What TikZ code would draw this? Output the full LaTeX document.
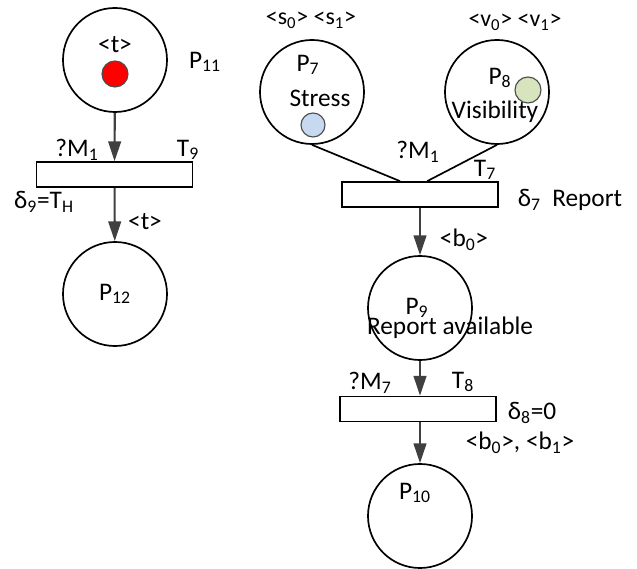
\documentclass[tikz,border=0pt]{standalone}
\usepackage{fontspec}
\setmainfont{Carlito}
\usetikzlibrary{arrows.meta}
\newcommand{\lo}[1]{\textsubscript{#1}}
\definecolor{stresstok}{HTML}{C6D9F1}
\definecolor{vistok}{HTML}{D7E4BD}

\begin{document}
\begin{tikzpicture}[x=0.025cm,y=-0.025cm,font=\fontsize{18}{21}\selectfont]
        \useasboundingbox (0,0) rectangle (637,569);

        % places
        \begin{scope}[every node/.style={circle,draw,line width=1.2pt,minimum size=2.6cm,inner sep=0pt}]
            \node (P11) at (115,60) {};
            \node (P12) at (115,294) {P\lo{12}};
            \node (P7) at (312,92) {};
            \node (P8) at (497,92) {};
            \node (P9) at (420,308) {};
            \node (P10) at (420,516) {};
        \end{scope}

        % transitions
        \begin{scope}[every node/.style={rectangle,draw,line width=1.2pt,minimum width=3.9cm,minimum height=0.625cm,inner sep=0pt}]
            \node (T9) at (114.5,174.5) {};
            \node (T7) at (420,194.5) {};
            \node (T8) at (418,409) {};
        \end{scope}

        % tokens
        \begin{scope}[every node/.style={circle,draw=black!70,thick,minimum size=0.65cm,inner sep=0pt}]
            \node [fill=red] (tokA) at (115,74) {};
            \node [fill=stresstok,minimum size=0.6cm] (tokS) at (313,125) {};
            \node [fill=vistok] (tokV) at (528,90) {};
        \end{scope}

        % arcs
        \begin{scope}[>={Triangle[length=14pt,width=9pt]},
                    every edge/.style={draw=black!75,line width=1.5pt}]
            \path [->] (P11) edge (T9);
            \path [->] (T9) edge (P12);
            \path [->] (T7) edge (P9);
            \path [->] (P9.south) edge (P9.south |- T8.north);
            \path [->] (T8.south -| P10) edge (P10);
        \end{scope}
        \begin{scope}[every edge/.style={draw=black,line width=1.2pt}]
            \path [-] (P7.south) edge ([xshift=-0.5cm]T7.north);
            \path [-] (P8.south) edge ([xshift=0.18cm]T7.north);
        \end{scope}

        % labels
        \begin{scope}[every node/.style={inner sep=0pt}]
            \node (tA) at (115,45) {<t>};
            \node (lP11) at (205,62) {P\lo{11}};
            \node (gT9) at (77,150) {?M\lo{1}};
            \node (lT9) at (188,150) {T\lo{9}};
            \node (dT9) at (44,202) {δ\lo{9}=T\lo{H}};
            \node (oT9) at (145,222) {<t>};
            \node [font=\fontsize{17}{20}\selectfont] (cP7) at (311,20) {<s\lo{0}> <s\lo{1}>};
            \node (lP7) at (308,65) {P\lo{7}};
            \node (nP7) at (320,98) {Stress};
            \node [font=\fontsize{17}{20}\selectfont] (cP8) at (515,22) {<v\lo{0}> <v\lo{1}>};
            \node (lP8) at (500,78) {P\lo{8}};
            \node (nP8) at (495,112) {Visibility};
            \node (gT7) at (418,152) {?M\lo{1}};
            \node (lT7) at (485,170) {T\lo{7}};
            \node (dT7) at (570,200) {δ\lo{7}\ \ Report};
            \node (oT7) at (464,240) {<b\lo{0}>};
            \node (lP9) at (417,308) {P\lo{9}};
            \node (nP9) at (450,328) {Report available};
            \node (gT8) at (370,383) {?M\lo{7}};
            \node (lT8) at (463,382) {T\lo{8}};
            \node (dT8) at (532,413) {δ\lo{8}=0};
            \node (oT8) at (520,443) {<b\lo{0}>, <b\lo{1}>};
            \node (lP10) at (415,493) {P\lo{10}};
        \end{scope}
    \end{tikzpicture}
\end{document}
